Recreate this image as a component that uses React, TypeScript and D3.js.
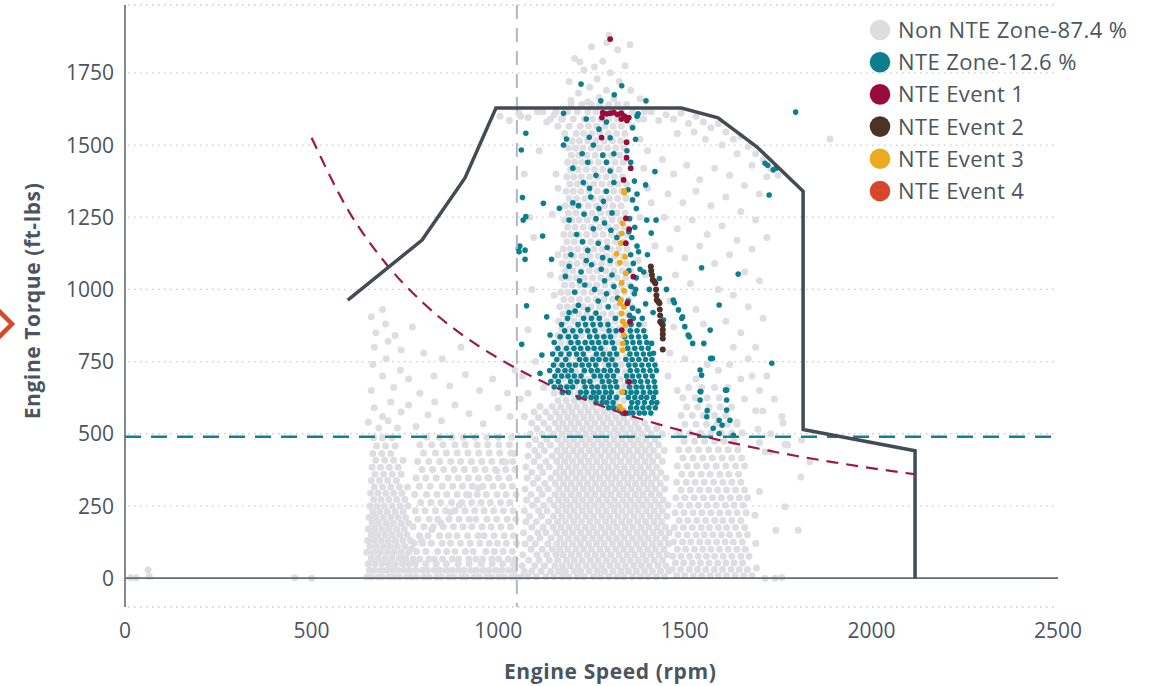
import React from 'react';
import * as d3 from 'd3';

// engine speed (rpm) / torque (ft-lbs) scatter, NTE zone chart

const xTicks = [0, 500, 1000, 1500, 2000, 2500];
const yTicks = [0, 250, 500, 750, 1000, 1250, 1500, 1750];

const legendItems = [
  { label: 'Non NTE Zone-87.4 %', color: '#dddde1' },
  { label: 'NTE Zone-12.6 %', color: '#0c7f8f' },
  { label: 'NTE Event 1', color: '#9c0a3c' },
  { label: 'NTE Event 2', color: '#4e3226' },
  { label: 'NTE Event 3', color: '#eeaa1f' },
  { label: 'NTE Event 4', color: '#d8462b' },
];

// full-load torque curve [rpm, torque]
const torqueCurve: [number, number][] = [
  [597, 963], [796, 1171], [911, 1386], [994, 1628], [1491, 1628], [1589, 1594],
  [1692, 1495], [1817, 1340], [1817, 515], [2117, 441], [2117, 0],
];

// constant power boundary [rpm, torque]
const powerCurve: [number, number][] = [
  [500, 1525], [600, 1270], [700, 1088], [800, 952], [900, 846], [1000, 762],
  [1100, 692], [1200, 635], [1300, 586], [1400, 544], [1500, 508], [1600, 476],
  [1700, 448], [1800, 423], [1900, 401], [2000, 381], [2115, 360],
];

const torqueLimit = 490;
const speedLimit = 1050;

// non NTE points, dense parts as rows: [torque, rpm values]
const grayBottomRows: [number, number[]][] = [
  [4, [648, 661, 679, 690, 708, 721, 736, 755, 768, 781, 801, 815, 835, 848, 868, 882, 902, 915, 935, 949, 969, 983, 1002, 1016, 1036, 1049]],
  [27, [655, 670, 686, 700, 716, 731, 748, 763, 779, 797, 810, 828, 843, 860, 876, 893, 909, 927, 942, 960, 976, 994, 1010, 1028, 1043]],
];

const grayLeftRows: [number, number[]][] = [
  [50, [652, 670, 688, 706, 724, 743, 760]],
  [70, [660, 678, 697, 715, 734, 752]],
  [90, [648, 666, 684, 703, 721, 740, 760]],
  [110, [656, 674, 693, 711, 730, 750]],
  [130, [650, 668, 686, 705, 724, 744, 765]],
  [150, [660, 678, 697, 716, 736, 756]],
  [170, [652, 670, 689, 708, 728, 748]],
  [190, [662, 680, 700, 719, 740, 760]],
  [210, [654, 672, 692, 712, 732, 752]],
  [230, [664, 683, 703, 724, 745]],
  [250, [656, 675, 695, 716, 737, 758]],
  [272, [666, 686, 707, 728, 750]],
  [294, [658, 678, 699, 720, 742]],
  [316, [668, 690, 712, 735, 757]],
  [338, [660, 682, 704, 727]],
  [360, [670, 693, 716, 740]],
  [384, [662, 685, 708, 732]],
  [408, [672, 696, 720, 745]],
  [432, [664, 688, 712]],
  [458, [674, 698, 724]],
  [486, [666, 690, 716]],
];

const grayMidRows: [number, number[]][] = [
  [50, [778, 806, 834, 861, 893, 922, 955, 984, 1012, 1040]],
  [66, [772, 790, 815, 829, 851, 877, 894, 921, 940, 958, 983, 1001, 1027, 1046]],
  [92, [781, 806, 838, 862, 884, 912, 933, 967, 990, 1013, 1038]],
  [121, [775, 797, 821, 850, 872, 899, 925, 951, 976, 998, 1022, 1049]],
  [147, [789, 812, 843, 867, 890, 918, 946, 962, 989, 1016, 1041]],
  [178, [772, 801, 826, 853, 880, 906, 929, 957, 981, 1007, 1033]],
  [204, [785, 815, 838, 868, 895, 922, 940, 970, 996, 1024, 1047]],
  [233, [778, 804, 832, 859, 884, 911, 937, 962, 988, 1014, 1040]],
  [262, [792, 820, 846, 875, 902, 929, 954, 979, 1006, 1031]],
  [290, [776, 808, 836, 862, 890, 915, 944, 968, 997, 1021, 1048]],
  [318, [789, 818, 850, 878, 904, 931, 959, 986, 1012, 1038]],
  [347, [780, 806, 834, 866, 893, 920, 947, 975, 1001, 1029]],
  [376, [796, 824, 854, 882, 909, 938, 965, 992, 1020, 1045]],
  [404, [784, 814, 843, 873, 899, 928, 956, 983, 1011, 1039]],
  [433, [800, 832, 861, 890, 919, 948, 976, 1004, 1034]],
  [462, [790, 822, 852, 884, 912, 944, 972, 1002, 1030]],
  [488, [808, 842, 876, 906, 938, 970, 1000, 1036]],
];

const grayCoreRows: [number, number[]][] = [
  [5, [1062, 1080, 1102, 1128, 1150, 1171, 1189, 1212, 1230, 1255, 1274, 1296, 1318, 1337, 1360, 1381, 1402, 1424, 1446]],
  [24, [1070, 1090, 1115, 1140, 1162, 1180, 1203, 1221, 1244, 1266, 1285, 1307, 1329, 1349, 1370, 1392, 1413, 1435, 1457]],
  [43, [1064, 1098, 1124, 1152, 1172, 1193, 1214, 1236, 1257, 1278, 1299, 1320, 1341, 1363, 1384, 1405, 1428, 1450]],
  [62, [1082, 1110, 1137, 1160, 1183, 1204, 1225, 1247, 1268, 1290, 1311, 1333, 1354, 1375, 1396, 1418, 1440]],
  [81, [1066, 1104, 1130, 1155, 1174, 1196, 1217, 1239, 1260, 1281, 1302, 1324, 1345, 1366, 1388, 1409, 1431, 1452]],
  [100, [1088, 1118, 1145, 1165, 1186, 1208, 1229, 1250, 1272, 1293, 1315, 1336, 1357, 1379, 1400, 1421, 1444]],
  [119, [1072, 1100, 1133, 1157, 1177, 1199, 1220, 1242, 1263, 1284, 1306, 1327, 1348, 1370, 1391, 1413, 1434, 1456]],
  [138, [1086, 1112, 1142, 1166, 1188, 1210, 1231, 1253, 1274, 1296, 1317, 1338, 1360, 1381, 1402, 1424, 1447]],
  [157, [1068, 1106, 1128, 1156, 1178, 1199, 1221, 1243, 1264, 1286, 1307, 1329, 1350, 1372, 1393, 1415, 1436, 1458]],
  [176, [1090, 1120, 1147, 1168, 1190, 1211, 1233, 1254, 1276, 1297, 1318, 1340, 1361, 1383, 1404, 1426, 1448]],
  [195, [1074, 1102, 1135, 1159, 1180, 1202, 1223, 1245, 1266, 1288, 1309, 1331, 1352, 1374, 1395, 1417, 1438]],
  [214, [1084, 1116, 1148, 1170, 1192, 1213, 1235, 1256, 1278, 1299, 1321, 1342, 1364, 1385, 1407, 1428, 1452]],
  [233, [1070, 1108, 1131, 1160, 1182, 1203, 1225, 1246, 1268, 1289, 1311, 1332, 1354, 1375, 1397, 1418, 1440]],
  [252, [1092, 1122, 1150, 1172, 1193, 1215, 1236, 1258, 1279, 1301, 1322, 1344, 1365, 1387, 1408, 1430, 1455]],
  [271, [1076, 1104, 1138, 1162, 1183, 1205, 1226, 1248, 1269, 1291, 1312, 1334, 1355, 1377, 1398, 1420, 1442]],
  [290, [1088, 1118, 1152, 1173, 1195, 1216, 1238, 1259, 1281, 1302, 1324, 1345, 1367, 1388, 1410, 1432]],
  [309, [1072, 1110, 1134, 1163, 1185, 1206, 1228, 1249, 1271, 1292, 1314, 1335, 1357, 1378, 1400, 1421, 1446]],
  [328, [1094, 1125, 1153, 1175, 1196, 1218, 1239, 1261, 1282, 1304, 1325, 1347, 1368, 1390, 1411, 1434]],
  [347, [1078, 1106, 1141, 1165, 1186, 1208, 1229, 1251, 1272, 1294, 1315, 1337, 1358, 1380, 1401, 1423, 1450]],
  [366, [1090, 1120, 1155, 1176, 1198, 1219, 1241, 1262, 1284, 1305, 1327, 1348, 1370, 1391, 1413, 1436]],
  [385, [1074, 1112, 1137, 1166, 1188, 1209, 1231, 1252, 1274, 1295, 1317, 1338, 1360, 1381, 1403, 1425]],
  [404, [1096, 1128, 1157, 1178, 1199, 1221, 1242, 1264, 1285, 1307, 1328, 1350, 1371, 1393, 1414, 1440]],
  [423, [1080, 1108, 1145, 1168, 1189, 1211, 1232, 1254, 1275, 1297, 1318, 1340, 1361, 1383, 1405, 1428]],
  [442, [1098, 1124, 1158, 1179, 1201, 1222, 1244, 1265, 1287, 1308, 1330, 1351, 1373, 1394, 1416, 1445]],
  [461, [1082, 1114, 1140, 1169, 1191, 1212, 1234, 1255, 1277, 1298, 1320, 1341, 1363, 1384, 1406, 1430]],
  [480, [1100, 1130, 1160, 1181, 1202, 1224, 1245, 1267, 1288, 1310, 1331, 1353, 1374, 1396, 1420]],
  [499, [1086, 1118, 1148, 1171, 1192, 1214, 1235, 1257, 1278, 1300, 1321, 1343, 1364, 1386, 1410, 1440]],
  [518, [1104, 1135, 1162, 1183, 1204, 1226, 1247, 1269, 1290, 1312, 1333, 1355, 1376, 1400, 1425]],
  [537, [1090, 1122, 1152, 1173, 1195, 1216, 1238, 1259, 1281, 1302, 1324, 1345, 1368, 1392]],
  [556, [1108, 1140, 1164, 1186, 1207, 1229, 1250, 1272, 1293, 1315, 1336, 1360]],
  [575, [1096, 1128, 1155, 1177, 1198, 1220, 1241, 1263, 1284, 1306, 1330]],
  [594, [1112, 1145, 1168, 1190, 1211, 1233, 1254, 1276, 1298, 1320]],
];

const grayUpperRows: [number, number[]][] = [
  [615, [1160, 1182, 1204, 1226, 1248, 1270, 1292, 1314, 1336]],
  [640, [1150, 1171, 1193, 1215, 1237, 1259, 1281, 1303, 1325, 1347]],
  [665, [1162, 1184, 1206, 1228, 1250, 1272, 1294, 1316, 1338, 1360]],
  [690, [1152, 1173, 1195, 1217, 1239, 1261, 1283, 1305, 1327, 1349]],
  [715, [1164, 1186, 1208, 1230, 1252, 1274, 1296, 1318, 1340]],
  [740, [1156, 1176, 1197, 1219, 1241, 1263, 1285, 1307, 1329, 1351]],
  [765, [1166, 1188, 1210, 1232, 1254, 1276, 1298, 1320, 1342]],
  [790, [1158, 1178, 1199, 1221, 1243, 1265, 1287, 1309, 1331, 1353]],
  [815, [1168, 1190, 1212, 1234, 1256, 1278, 1300, 1322, 1344]],
  [840, [1160, 1180, 1201, 1223, 1245, 1267, 1289, 1311, 1333, 1356]],
  [865, [1170, 1192, 1214, 1236, 1258, 1280, 1302, 1324, 1346]],
  [890, [1162, 1182, 1203, 1225, 1247, 1269, 1291, 1313, 1335, 1358]],
  [915, [1174, 1194, 1216, 1238, 1260, 1282, 1304, 1326, 1348]],
  [940, [1165, 1185, 1205, 1227, 1249, 1271, 1293, 1315, 1337, 1360]],
  [965, [1176, 1196, 1218, 1240, 1262, 1284, 1306, 1328, 1350]],
  [990, [1168, 1187, 1207, 1229, 1251, 1273, 1295, 1317, 1339, 1362]],
  [1015, [1178, 1198, 1220, 1242, 1264, 1286, 1308, 1330, 1352]],
  [1040, [1170, 1189, 1209, 1231, 1253, 1275, 1297, 1319, 1341]],
  [1065, [1180, 1200, 1222, 1244, 1266, 1288, 1310, 1332, 1355]],
  [1090, [1172, 1191, 1211, 1233, 1255, 1277, 1299, 1321, 1343]],
  [1115, [1182, 1202, 1224, 1246, 1268, 1290, 1312, 1334]],
  [1140, [1174, 1193, 1213, 1235, 1257, 1279, 1301, 1323, 1345]],
  [1165, [1184, 1204, 1226, 1248, 1270, 1292, 1314, 1336]],
  [1190, [1176, 1195, 1215, 1237, 1259, 1281, 1303, 1325, 1347]],
  [1215, [1186, 1206, 1228, 1250, 1272, 1294, 1316, 1338]],
  [1240, [1178, 1197, 1217, 1239, 1261, 1283, 1305, 1327]],
  [1265, [1188, 1208, 1230, 1252, 1274, 1296, 1318, 1340]],
  [1290, [1180, 1199, 1219, 1241, 1263, 1285, 1307, 1329]],
  [1315, [1190, 1210, 1232, 1254, 1276, 1298, 1320, 1342]],
  [1340, [1182, 1201, 1221, 1243, 1265, 1287, 1309, 1331]],
  [1365, [1192, 1212, 1234, 1256, 1278, 1300, 1322, 1344]],
  [1390, [1184, 1203, 1223, 1245, 1267, 1289, 1311, 1333]],
  [1415, [1194, 1214, 1236, 1258, 1280, 1302, 1324]],
  [1440, [1186, 1205, 1225, 1247, 1269, 1291, 1313, 1335]],
  [1465, [1196, 1216, 1238, 1260, 1282, 1304, 1326]],
  [1490, [1188, 1207, 1227, 1249, 1271, 1293, 1315, 1337]],
  [1515, [1198, 1218, 1240, 1262, 1284, 1306, 1328]],
  [1540, [1178, 1209, 1229, 1251, 1273, 1295, 1317, 1339]],
  [1565, [1160, 1190, 1220, 1242, 1264, 1286, 1308, 1330, 1360]],
  [1590, [1140, 1172, 1201, 1231, 1253, 1275, 1297, 1319, 1345, 1375]],
  [1615, [1120, 1155, 1186, 1212, 1240, 1262, 1284, 1306, 1330, 1360, 1392]],
  [1640, [1195, 1224, 1250, 1272, 1296, 1320, 1344]],
];

const grayRightRows: [number, number[]][] = [
  [8, [1478, 1500, 1523, 1545, 1568, 1590, 1612, 1635, 1658, 1680]],
  [30, [1466, 1489, 1512, 1534, 1556, 1579, 1601, 1624, 1646, 1668]],
  [52, [1475, 1497, 1520, 1542, 1565, 1588, 1610, 1632, 1655]],
  [76, [1468, 1490, 1513, 1536, 1558, 1580, 1603, 1626, 1650, 1672]],
  [100, [1480, 1502, 1526, 1548, 1570, 1593, 1616, 1640, 1662]],
  [125, [1470, 1494, 1516, 1540, 1562, 1585, 1608, 1630, 1654]],
  [150, [1482, 1506, 1530, 1552, 1575, 1598, 1620, 1645, 1668]],
  [175, [1472, 1496, 1520, 1544, 1566, 1590, 1612, 1636, 1660]],
  [200, [1485, 1508, 1532, 1556, 1580, 1602, 1626, 1650]],
  [226, [1474, 1498, 1522, 1546, 1570, 1594, 1617, 1640, 1664]],
  [252, [1488, 1512, 1536, 1560, 1584, 1608, 1632, 1656]],
  [278, [1476, 1500, 1525, 1550, 1574, 1598, 1622, 1646, 1668]],
  [305, [1490, 1515, 1540, 1564, 1588, 1612, 1636, 1660]],
  [332, [1478, 1504, 1528, 1552, 1577, 1602, 1626, 1650]],
  [360, [1492, 1518, 1544, 1568, 1594, 1618, 1644]],
  [388, [1480, 1506, 1532, 1558, 1584, 1610, 1636, 1660]],
  [416, [1495, 1522, 1548, 1574, 1600, 1626, 1652]],
  [445, [1484, 1510, 1537, 1564, 1590, 1616, 1642]],
  [474, [1498, 1526, 1553, 1580, 1606, 1632]],
  [503, [1486, 1514, 1542, 1570, 1598, 1626, 1654]],
  [533, [1500, 1530, 1558, 1586, 1614, 1640]],
  [563, [1490, 1520, 1550, 1580, 1610]],
  [593, [1505, 1535, 1565, 1595, 1625]],
  [625, [1495, 1528, 1560, 1592]],
  [660, [1510, 1545, 1580, 1615]],
];

// non NTE single points [rpm, torque]
const grayScatter: [number, number][] = [
  [15, 2], [30, 1], [62, 28], [65, 6], [455, 1], [500, 0], [1692, 35], [1715, 0], [1742, 0], [1760, 2],
  [652, 540], [668, 590], [690, 560], [712, 610], [740, 575], [780, 525], [812, 565], [848, 545], [884, 600],
  [922, 570], [960, 535], [1000, 590], [1032, 560], [790, 640], [828, 700], [870, 665], [912, 705], [950, 650],
  [985, 690], [1025, 640], [1045, 720], [660, 650], [690, 700], [720, 660], [664, 740], [700, 760], [738, 720],
  [668, 800], [705, 820], [740, 790], [672, 850], [698, 880], [724, 840], [660, 905], [690, 930], [770, 870],
  [800, 780], [850, 760], [900, 800], [760, 690], [680, 520], [705, 545], [730, 520], [760, 600], [830, 610],
  [715, 40], [742, 70], [768, 102], [794, 130], [822, 168], [846, 192], [872, 228], [896, 252], [922, 288],
  [946, 312], [972, 348], [996, 372], [1020, 402], [1044, 432],
  [1440, 1450], [1470, 1400], [1505, 1430], [1540, 1380], [1580, 1420], [1620, 1395], [1660, 1360], [1700, 1330],
  [1455, 1330], [1495, 1300], [1530, 1340], [1570, 1290], [1610, 1320], [1650, 1270], [1690, 1240], [1445, 1250],
  [1480, 1210], [1520, 1240], [1560, 1190], [1600, 1220], [1640, 1170], [1680, 1140], [1720, 1180], [1460, 1140],
  [1500, 1110], [1540, 1150], [1580, 1090], [1620, 1120], [1660, 1060], [1700, 1030], [1475, 1050], [1515, 1020],
  [1590, 1000], [1630, 980], [1670, 940], [1710, 900], [1460, 960], [1530, 930], [1610, 890], [1650, 850],
  [1690, 800], [1470, 870], [1550, 880], [1630, 800], [1670, 760], [1720, 700], [1460, 780], [1500, 760],
  [1590, 720], [1650, 690], [1700, 650], [1740, 620], [1760, 560], [1730, 500], [1455, 700], [1480, 650],
  [1530, 690], [1560, 740], [1620, 740], [1680, 700], [1660, 620], [1690, 580], [1640, 540], [1700, 470],
  [1709, 579], [1763, 537], [1769, 464], [1715, 437], [1728, 438], [1696, 516], [1813, 478], [1811, 350],
  [1835, 403], [1776, 461], [1688, 218], [1744, 166], [1804, 166], [1768, 247], [1690, 120], [1700, 300],
  [1297, 1880], [1250, 1840], [1320, 1830], [1205, 1800], [1280, 1790], [1340, 1775], [1230, 1760], [1300, 1750],
  [1265, 1730], [1190, 1720], [1325, 1720], [1245, 1700], [1290, 1690], [1215, 1680], [1355, 1690], [1270, 1665],
  [1310, 1660], [1195, 1655], [1240, 1650], [1380, 1660], [1291, 1854], [1353, 1847], [1219, 1788], [1258, 1770],
  [1005, 1600], [1030, 1585], [1055, 1610], [1080, 1595], [1105, 1615], [1130, 1580], [1150, 1605], [1170, 1590],
  [1390, 1590], [1410, 1615], [1430, 1585], [1450, 1605], [1470, 1590], [1490, 1610], [1510, 1575], [1530, 1600],
  [1550, 1580], [1570, 1560], [1590, 1575], [1610, 1545], [1630, 1520], [1650, 1530], [1670, 1495], [1690, 1470],
  [1710, 1450], [1730, 1420], [1750, 1395], [1525, 1545], [1480, 1540], [1555, 1520], [1600, 1500], [1640, 1470],
  [1680, 1430], [1720, 1390], [1889, 1521],
  [1150, 980], [1160, 1120], [1145, 1260], [1155, 1400], [1400, 1480], [1410, 1300], [1420, 1150], [1395, 1050],
  [1430, 960], [1140, 1050], [1160, 1350], [1380, 1520], [1390, 1420], [1400, 1350], [1380, 1250], [1375, 1100],
  [1390, 880], [1060, 1600], [1070, 1400], [1085, 1250], [1090, 1000], [1080, 860], [1100, 750], [1095, 1180],
  [1065, 700], [1110, 1480], [1070, 560], [1080, 640], [1122, 660], [1060, 620],
];

// NTE zone points
const tealRows: [number, number[]][] = [
  [572, [1333, 1349, 1361, 1378, 1392, 1409]],
  [590, [1296, 1309, 1324, 1355, 1371, 1388, 1404, 1421]],
  [608, [1262, 1279, 1291, 1308, 1358, 1374, 1392, 1411, 1425]],
  [626, [1216, 1232, 1249, 1263, 1281, 1298, 1317, 1349, 1366, 1383, 1398, 1416]],
  [644, [1172, 1188, 1221, 1236, 1255, 1270, 1288, 1303, 1339, 1356, 1371, 1389, 1407, 1422]],
  [662, [1150, 1167, 1184, 1199, 1233, 1251, 1266, 1284, 1301, 1318, 1352, 1370, 1385, 1403, 1420]],
  [681, [1141, 1161, 1194, 1211, 1229, 1246, 1279, 1297, 1314, 1347, 1365, 1382, 1400, 1418]],
  [700, [1152, 1170, 1187, 1204, 1222, 1257, 1274, 1292, 1309, 1344, 1360, 1377, 1395, 1413]],
  [719, [1138, 1160, 1179, 1196, 1231, 1249, 1266, 1284, 1301, 1319, 1354, 1372, 1389, 1407, 1424]],
  [738, [1148, 1171, 1190, 1207, 1225, 1243, 1261, 1296, 1314, 1350, 1367, 1385, 1403, 1420]],
  [757, [1157, 1181, 1218, 1235, 1253, 1270, 1288, 1305, 1342, 1359, 1377, 1395, 1412]],
  [776, [1146, 1168, 1190, 1210, 1228, 1263, 1281, 1299, 1317, 1353, 1371, 1389, 1406]],
  [796, [1160, 1183, 1203, 1221, 1240, 1257, 1275, 1311, 1347, 1366, 1384, 1402]],
  [816, [1150, 1195, 1214, 1233, 1251, 1269, 1288, 1306, 1343, 1361, 1379, 1398]],
  [836, [1166, 1188, 1208, 1245, 1264, 1283, 1301, 1339, 1357, 1376, 1394]],
  [857, [1178, 1200, 1221, 1240, 1259, 1297, 1316, 1354, 1372, 1390]],
  [878, [1170, 1214, 1234, 1254, 1274, 1294, 1356, 1377]],
  [900, [1186, 1229, 1250, 1271, 1314, 1362, 1386]],
];

const tealScatter: [number, number][] = [
  [1352, 910], [1360, 935], [1348, 960], [1365, 985], [1356, 1010], [1370, 1040], [1350, 1065], [1362, 1090],
  [1355, 1120], [1372, 1150], [1358, 1180], [1366, 1215], [1352, 1245], [1370, 1280], [1360, 1310], [1348, 1345],
  [1365, 1375], [1355, 1440], [1345, 1480], [1360, 1560], [1372, 1600], [1375, 925], [1368, 1000], [1380, 1070],
  [1376, 1130], [1350, 1200], [1372, 1330], [1368, 1520],
  [1190, 920], [1215, 945], [1240, 930], [1268, 960], [1295, 940], [1320, 970], [1205, 990], [1232, 1015],
  [1258, 1000], [1285, 1030], [1310, 1010], [1180, 1045], [1222, 1060], [1250, 1085], [1276, 1070], [1300, 1100],
  [1195, 1120], [1240, 1135], [1268, 1160], [1292, 1145], [1318, 1180], [1210, 1190], [1255, 1210], [1285, 1230],
  [1230, 1260], [1270, 1280], [1305, 1265], [1200, 1300], [1248, 1320], [1290, 1340], [1228, 1370], [1262, 1395],
  [1300, 1410], [1240, 1440], [1280, 1465], [1255, 1500], [1300, 1525], [1270, 1555], [1244, 1527], [1183, 1521],
  [1175, 1500], [1222, 1711], [1311, 1674], [1331, 1705], [1396, 1653], [1275, 1653], [1175, 1610], [1375, 1608],
  [1395, 1362], [1420, 1408], [1398, 1240], [1423, 1240], [1410, 1195], [1400, 1120], [1390, 1060], [1405, 1000],
  [1395, 950], [1415, 920], [1206, 925], [1262, 918], [1290, 985], [1218, 1030], [1305, 1050], [1190, 1080],
  [1236, 1100], [1280, 1110], [1226, 1165], [1302, 1205], [1190, 1240], [1262, 1245], [1215, 1290], [1282, 1305],
  [1245, 1350], [1310, 1370], [1200, 1420], [1290, 1440], [1225, 1470], [1310, 1470], [1290, 1580], [1236, 1590],
  [1074, 1541], [1062, 1483], [1065, 1318], [1121, 1298], [1164, 1281], [1067, 1240], [1074, 1252], [1119, 1185],
  [1054, 1142], [1072, 1136], [1072, 1104], [1143, 1104], [1076, 943], [1130, 905], [1139, 842], [1063, 810],
  [1117, 773], [1112, 709], [1056, 1130], [1058, 1150],
  [1545, 1075], [1643, 1053], [1592, 946], [1551, 813], [1512, 836], [1569, 761], [1733, 744], [1541, 646],
  [1612, 651], [1612, 617], [1612, 582], [1541, 617], [1797, 1614], [1715, 1437], [1737, 1414], [1726, 1327],
  [1745, 1420], [1722, 1430],
  [1432, 1038], [1451, 1000], [1469, 963], [1483, 929], [1492, 900], [1500, 871], [1509, 842], [1521, 813],
  [1411, 813], [1416, 779], [1443, 894], [1494, 905], [1472, 954], [1568, 859], [1574, 761], [1541, 721],
  [1545, 703], [1609, 651], [1543, 646], [1559, 559], [1592, 547], [1621, 547], [1576, 519], [1592, 501],
  [1630, 495], [1600, 530], [1560, 580],
];

const eventOne: [number, number][] = [
  [1300, 1867], [1280, 1612], [1290, 1608], [1300, 1610], [1310, 1612], [1320, 1606], [1330, 1610], [1338, 1600],
  [1345, 1585], [1350, 1595], [1278, 1595], [1330, 1590], [1277, 1526], [1344, 1510], [1344, 1456], [1355, 1420],
  [1336, 1379], [1342, 1246], [1351, 1209], [1342, 1160], [1362, 1044], [1346, 952], [1353, 888], [1331, 859],
  [1351, 680], [1340, 571],
];

const eventTwo: [number, number][] = [
  [1409, 1079], [1410, 1065], [1412, 1050], [1414, 1033], [1418, 1027], [1421, 1021], [1423, 1000], [1424, 980],
  [1425, 963], [1429, 957], [1432, 952], [1433, 930], [1434, 910], [1434, 888], [1438, 882], [1441, 877],
  [1441, 860], [1441, 845], [1441, 830], [1441, 792],
];

const eventThree: [number, number][] = [
  [1337, 1341], [1338, 1335], [1333, 1229], [1331, 1194], [1329, 1160], [1317, 1123], [1340, 1113], [1326, 1093],
  [1342, 1056], [1331, 1023], [1337, 996], [1329, 963], [1326, 952], [1337, 940], [1331, 917], [1334, 888],
  [1340, 877], [1337, 842], [1334, 813], [1334, 790], [1332, 645], [1326, 594], [1335, 582],
];

const eventFour: [number, number][] = [];

const fromRows = (rows: [number, number[]][]): [number, number][] =>
  rows.flatMap(([t, rpms]) => rpms.map((r) => [r, t] as [number, number]));

const W = 1150;
const H = 686;
const FONT = '"Open Sans", sans-serif';
const TEXT = '#4c555f';

const x = d3.scaleLinear().domain([0, 2500]).range([125, 1058]);
const y = d3.scaleLinear().domain([-100, 1985]).range([607, 5]);

const App = () => {
  const grayPts = [
    ...fromRows(grayBottomRows),
    ...fromRows(grayLeftRows),
    ...fromRows(grayMidRows),
    ...fromRows(grayCoreRows),
    ...fromRows(grayUpperRows),
    ...fromRows(grayRightRows),
    ...grayScatter,
  ];
  const tealPts = [...fromRows(tealRows), ...tealScatter];

  const line = d3.line<[number, number]>().x((d) => x(d[0])).y((d) => y(d[1]));
  const smooth = d3
    .line<[number, number]>()
    .x((d) => x(d[0]))
    .y((d) => y(d[1]))
    .curve(d3.curveMonotoneX);

  const dots = (pts: [number, number][], color: string, r: number, key: string) =>
    pts.map((d, i) => <circle key={key + i} cx={x(d[0])} cy={y(d[1])} r={r} fill={color} />);

  const [y0, y1] = y.domain();

  return (
    <div style={{ position: 'absolute', left: 0, top: 0 }}>
      <svg width={W} height={H} style={{ display: 'block', background: '#fff' }} fontFamily={FONT}>
        {/* grid */}
        {[y0, ...yTicks.filter((t) => t > 0), y1].map((t) => (
          <line
            key={'g' + t}
            x1={128}
            x2={x(2500)}
            y1={y(t)}
            y2={y(t)}
            stroke="#c8ccd0"
            strokeWidth={1.3}
            strokeDasharray="1.5 4.5"
          />
        ))}

        {/* points */}
        {dots(grayPts, '#dedde2', 3.5, 'gr')}
        {dots(tealPts, '#0c7f8f', 2.8, 'te')}
        {dots(eventThree, '#eeaa1f', 2.9, 'e3')}
        {dots(eventOne, '#9c0a3c', 2.9, 'e1')}
        {dots(eventTwo, '#4e3226', 3, 'e2')}
        {dots(eventFour, '#d8462b', 2.9, 'e4')}

        {/* limits */}
        <line x1={x(speedLimit)} x2={x(speedLimit)} y1={y(y1)} y2={y(y0)} stroke="#b4b8bc" strokeWidth={2} strokeDasharray="14 9" />
        <line x1={x(0)} x2={x(2500)} y1={y(torqueLimit)} y2={y(torqueLimit)} stroke="#12808f" strokeWidth={2.5} strokeDasharray="16 10" />
        <path d={smooth(powerCurve) || ''} fill="none" stroke="#9f1748" strokeWidth={2.2} strokeDasharray="12 8" />

        {/* axes */}
        <line x1={x(0)} x2={x(0)} y1={y(y1)} y2={y(y0)} stroke="#646b72" strokeWidth={1.6} />
        <line x1={x(0)} x2={x(2500)} y1={y(0)} y2={y(0)} stroke="#646b72" strokeWidth={1.6} />

        <path d={line(torqueCurve) || ''} fill="none" stroke="#434b53" strokeWidth={3.5} strokeLinejoin="miter" />

        {yTicks.map((t) => (
          <text key={'yt' + t} x={114} y={y(t)} dy="0.36em" textAnchor="end" fontSize={21} fill={TEXT}>
            {t}
          </text>
        ))}
        {xTicks.map((t) => (
          <text key={'xt' + t} x={x(t)} y={638} textAnchor="middle" fontSize={21} fill={TEXT}>
            {t}
          </text>
        ))}

        <text x={x(1300)} y={679} textAnchor="middle" fontSize={21} fontWeight={700} fill={TEXT} letterSpacing={0.6}>
          Engine Speed (rpm)
        </text>
        <text
          transform="translate(40,301) rotate(-90)"
          textAnchor="middle"
          fontSize={21}
          fontWeight={700}
          fill={TEXT}
          letterSpacing={0.6}
        >
          Engine Torque (ft-lbs)
        </text>

        {/* legend */}
        {legendItems.map((d, i) => (
          <g key={d.label} transform={`translate(880,${30 + i * 32.2})`}>
            <circle r={10.3} fill={d.color} />
            <text x={18} dy="0.36em" fontSize={22} fill={TEXT} letterSpacing={0.4}>
              {d.label}
            </text>
          </g>
        ))}

        {/* side marker */}
        <polyline points="-2,310 12,324 -2,338" fill="none" stroke="#d8462b" strokeWidth={4.5} />
      </svg>
    </div>
  );
};

export default App;
